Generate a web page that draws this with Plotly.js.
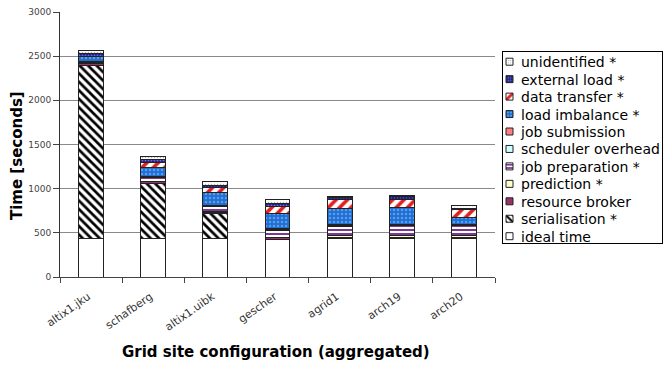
<!DOCTYPE html>
<html>
<head>
<meta charset="utf-8">
<script src="https://cdn.plot.ly/plotly-3.0.1.min.js"></script>
<style>
  html, body { margin: 0; padding: 0; background: #fff; }
  #chart { width: 664px; height: 367px; }
</style>
</head>
<body>
<div id="chart"></div>
<script>
// Grid sites, in the order they appear along the x axis
const sites = ["altix1.jku", "schafberg", "altix1.uibk", "gescher", "agrid1", "arch19", "arch20"];

// Time components per site, in seconds (stacked bottom to top)
const idealTime         = [437, 435, 435, 430, 437, 435, 440];
const serialisation     = [1958, 624, 280, 0, 0, 0, 0];
const resourceBroker    = [20, 20, 20, 12, 8, 8, 8];
const prediction        = [3, 5, 8, 8, 20, 25, 22];
const jobPreparation    = [15, 45, 55, 80, 110, 115, 110];
const schedulerOverhead = [3, 5, 5, 5, 5, 5, 5];
const jobSubmission     = [3, 8, 8, 12, 10, 10, 10];
const loadImbalance     = [56, 100, 150, 170, 180, 190, 80];
const dataTransfer      = [5, 50, 50, 83, 105, 95, 90];
const externalLoad      = [28, 35, 30, 30, 30, 30, 12];
const unidentified      = [40, 38, 36, 50, 12, 12, 28];

const yTicks = [0, 500, 1000, 1500, 2000, 2500, 3000];

const outline = { color: "#222", width: 1 };

function layer(name, values, color, pattern) {
  const marker = { color: color, line: outline };
  if (pattern) marker.pattern = pattern;
  return { type: "bar", name: name, x: sites, y: values, marker: marker };
}

const traces = [
  layer("ideal time", idealTime, "#ffffff"),
  layer("serialisation *", serialisation, "#ffffff",
        { shape: "\\", fgcolor: "#000000", bgcolor: "#ffffff", size: 6, solidity: 0.45 }),
  layer("resource broker", resourceBroker, "#993366"),
  layer("prediction *", prediction, "#ffffcc"),
  layer("job preparation *", jobPreparation, "#ffffff",
        { shape: "-", fgcolor: "#7a3a90", bgcolor: "#ffffff", size: 4, solidity: 0.5 }),
  layer("scheduler overhead", schedulerOverhead, "#ccffff"),
  layer("job submission", jobSubmission, "#ff7f7f"),
  layer("load imbalance *", loadImbalance, "#1f6fd0",
        { shape: ".", fgcolor: "#5c9cf0", bgcolor: "#1f6fd0", size: 4, solidity: 0.3 }),
  layer("data transfer *", dataTransfer, "#ffffff",
        { shape: "/", fgcolor: "#e02020", bgcolor: "#ffffff", size: 8, solidity: 0.45 }),
  layer("external load *", externalLoad, "#1c1c80",
        { shape: ".", fgcolor: "#7070d0", bgcolor: "#1c1c80", size: 3, solidity: 0.3 }),
  layer("unidentified *", unidentified, "#ffffff",
        { shape: ".", fgcolor: "#b0b0b0", bgcolor: "#ffffff", size: 3, solidity: 0.2 })
];

const titleFont = { size: 15, color: "#000", weight: "bold", family: "DejaVu Sans, sans-serif" };

const layout = {
  width: 664,
  height: 367,
  margin: { l: 60, r: 169, t: 12, b: 90, autoexpand: false },
  paper_bgcolor: "#ffffff",
  plot_bgcolor: "#ffffff",
  barmode: "stack",
  bargap: 0.6,
  font: { family: "DejaVu Sans, sans-serif", color: "#000" },
  xaxis: {
    type: "category",
    tickangle: -35,
    tickfont: { size: 11, color: "#333" },
    ticks: "outside",
    tickson: "boundaries",
    ticklen: 5,
    tickcolor: "#444",
    ticklabelstandoff: 8,
    ticklabelshift: -3,
    showline: true,
    linecolor: "#444",
    linewidth: 1,
    showgrid: false
  },
  yaxis: {
    range: [0, 3000],
    tickvals: yTicks,
    tickfont: { size: 9, color: "#444" },
    ticks: "outside",
    ticklen: 6,
    tickcolor: "#444",
    showline: true,
    linecolor: "#333",
    linewidth: 1,
    showgrid: true,
    gridcolor: "#8a8a8a",
    gridwidth: 1,
    zeroline: false
  },
  annotations: [
    { text: "Time [seconds]", xref: "paper", yref: "paper", x: -0.099, y: 0.46,
      textangle: -90, showarrow: false, font: titleFont, xanchor: "center", yanchor: "middle" },
    { text: "Grid site configuration (aggregated)", xref: "paper", yref: "paper",
      x: 0.497, y: -0.283, showarrow: false, font: titleFont, xanchor: "center", yanchor: "middle" }
  ],
  legend: {
    x: 1.0115,
    xanchor: "left",
    y: 0.85,
    yanchor: "top",
    traceorder: "reversed",
    bgcolor: "#ffffff",
    bordercolor: "#000",
    borderwidth: 1,
    font: { size: 14, color: "#000" },
    tracegroupgap: 0
  },
  showlegend: true
};

// Compact legend box: tighter rows, small swatches close to the labels
const legendBox = { x: 502, y: 51, w: 160, h: 192, first: 10.7, step: 17.45, half: 3.5, symX: 7.5, textX: 19 };

function readY(el) {
  const m = /translate\(\s*([-\d.e]+)[ ,]+([-\d.e]+)/.exec(el.getAttribute("transform") || "");
  return m ? parseFloat(m[2]) : 0;
}

function compactLegend(gd) {
  const leg = gd.querySelector("g.legend");
  if (!leg) return;
  const L = legendBox;
  leg.setAttribute("transform", "translate(" + L.x + "," + L.y + ")");
  const bg = leg.querySelector("rect.bg");
  if (bg) {
    bg.setAttribute("x", 0.5); bg.setAttribute("y", 0.5);
    bg.setAttribute("width", L.w); bg.setAttribute("height", L.h);
  }
  const box = leg.querySelector("g.scrollbox");
  if (box) { box.setAttribute("transform", "translate(0,0)"); box.removeAttribute("clip-path"); }
  const items = Array.from(leg.querySelectorAll("g.traces"));
  items.sort((a, b) => readY(a) - readY(b));
  items.forEach((g, i) => {
    g.setAttribute("transform", "translate(0," + (L.first + i * L.step) + ")");
    const t = g.querySelector("text.legendtext");
    if (t) {
      t.setAttribute("x", L.textX);
      t.querySelectorAll("tspan").forEach(s => { if (s.hasAttribute("x")) s.setAttribute("x", L.textX); });
    }
    g.querySelectorAll("g.legendpoints path").forEach(p => {
      const h = L.half;
      p.setAttribute("d", "M" + h + "," + h + "H-" + h + "V-" + h + "H" + h + "Z");
      p.setAttribute("transform", "translate(" + L.symX + ",0)");
    });
    const toggle = g.querySelector("rect.legendtoggle");
    if (toggle) toggle.setAttribute("width", L.w - 2);
  });
}

Plotly.newPlot("chart", traces, layout, { displayModeBar: false, staticPlot: true })
  .then(gd => compactLegend(gd));
</script>
</body>
</html>
